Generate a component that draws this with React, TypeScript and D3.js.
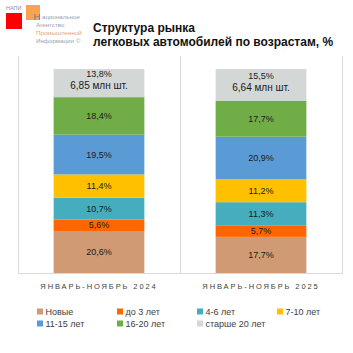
import React from 'react';
import * as d3 from 'd3';

const width = 353;
const height = 353;
const plot = { left: 18, right: 342, top: 56, bottom: 273, barTop: 69 };

const categories = ['ЯНВАРЬ-НОЯБРЬ 2024', 'ЯНВАРЬ-НОЯБРЬ 2025'];
const seriesNames = ['Новые', 'до 3 лет', '4-6 лет', '7-10 лет', '11-15 лет', '16-20 лет', 'старше 20 лет'];
const seriesColors = ['#D09B74', '#FF6600', '#45ADBD', '#FFC000', '#5B9BD5', '#70AD47', '#D3D7D6'];
const values2024 = [20.6, 5.6, 10.7, 11.4, 19.5, 18.4, 13.8];
const values2025 = [17.7, 5.7, 11.3, 11.2, 20.9, 17.7, 15.5];
const volumes = ['6,85 млн шт.', '6,64 млн шт.'];

const fmt = (v: number) => v.toFixed(1).replace('.', ',') + '%';

export default function App() {
  const rows = [values2024, values2025].map((vals, i) => {
    const r: any = { cat: categories[i] };
    seriesNames.forEach((s, j) => (r[s] = vals[j]));
    return r;
  });
  const stacked = d3.stack().keys(seriesNames)(rows);

  const x = d3
    .scaleBand()
    .domain(categories)
    .range([plot.left, plot.right])
    .paddingInner(0.44)
    .paddingOuter(0.22);
  const y = d3.scaleLinear().domain([0, 100]).range([plot.bottom, plot.barTop]);
  const step = x.step();

  return (
    <svg width={width} height={height} style={{ position: 'absolute', left: 0, top: 0 }} fontFamily="'Liberation Sans', Arial, sans-serif">
      <rect width={width} height={height} fill="#fff" />
      {/* logo */}
      <rect x={6} y={13} width={16} height={16} fill="#FF0000" />
      <rect x={26} y={5} width={14} height={15} fill="#F79A3E" opacity={0.9} />
      <text x={6} y={10} fontSize={5.5} fill="#7F8FA6">НАПИ</text>
      <text x={33.5} y={20} fontSize={9.5} fill="#6F7A88">Н</text>
      <g fontSize={6.2} fill="#98A3B0">
        <text x={42} y={19}>ациональное</text>
        <text x={36} y={27}>Агентство</text>
        <text x={36} y={35} fill="#E3A57B">Промышленной</text>
        <text x={36} y={43}>Информации ©</text>
      </g>
      {/* title */}
      <g fontSize={12} fontWeight="bold" fill="#111">
        <text x={93} y={32}>Структура рынка</text>
        <text x={93} y={46}>легковых автомобилей по возрастам, %</text>
      </g>
      {/* plot frame */}
      <g stroke="#D9D9D9" strokeWidth={1} fill="none">
        <line x1={plot.left + 0.5} x2={plot.left + 0.5} y1={plot.top} y2={plot.bottom + 0.5} />
        <line x1={plot.right + 0.5} x2={plot.right + 0.5} y1={plot.top} y2={plot.bottom + 0.5} />
        <line x1={plot.left + step + 0.5} x2={plot.left + step + 0.5} y1={plot.top} y2={plot.bottom + 0.5} />
        <line x1={plot.left} x2={plot.right + 1} y1={plot.bottom + 0.5} y2={plot.bottom + 0.5} />
      </g>
      {/* bars */}
      {stacked.map((layer, j) => (
        <g key={layer.key} fill={seriesColors[j]}>
          {layer.map((d: any) => (
            <rect
              key={d.data.cat}
              x={x(d.data.cat)}
              y={y(d[1])}
              width={x.bandwidth()}
              height={y(d[0]) - y(d[1])}
            />
          ))}
        </g>
      ))}
      {/* labels */}
      {stacked.map((layer, j) =>
        layer.map((d: any, i: number) => {
          const cx = (x(d.data.cat) as number) + x.bandwidth() / 2;
          const mid = (y(d[0]) + y(d[1])) / 2;
          const v = d[1] - d[0];
          if (j === seriesNames.length - 1) {
            return (
              <g key={layer.key + i} textAnchor="middle" fill="#1A1A1A">
                <text x={cx} y={mid - 6} fontSize={9}>{fmt(v)}</text>
                <text x={cx} y={mid + 6} fontSize={10}>{volumes[i]}</text>
              </g>
            );
          }
          return (
            <text key={layer.key + i} x={cx} y={mid + 3.2} textAnchor="middle" fontSize={9} fill="#1A1A1A">
              {fmt(v)}
            </text>
          );
        })
      )}
      {/* category labels */}
      {categories.map(c => (
        <text
          key={c}
          x={(x(c) as number) + x.bandwidth() / 2}
          y={289}
          textAnchor="middle"
          fontSize={7.5}
          letterSpacing={1.9}
          fill="#404040"
        >
          {c}
        </text>
      ))}
      {/* legend */}
      {seriesNames.map((s, j) => {
        const col = j % 4;
        const row = Math.floor(j / 4);
        const lx = 37 + col * 80;
        const ly = 315 + row * 12;
        return (
          <g key={s}>
            <rect x={lx} y={ly - 6.5} width={6} height={6} fill={seriesColors[j]} />
            <text x={lx + 8.5} y={ly} fontSize={9} fill="#404040">{s}</text>
          </g>
        );
      })}
    </svg>
  );
}
